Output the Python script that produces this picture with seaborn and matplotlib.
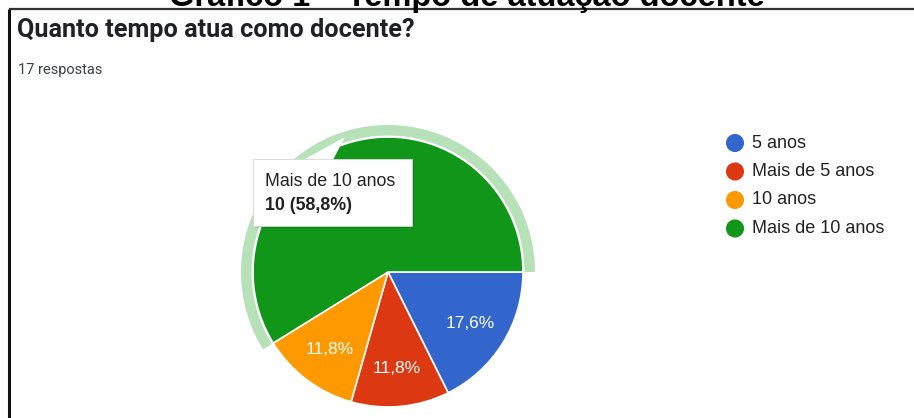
import matplotlib
matplotlib.use("Agg")
import matplotlib.pyplot as plt
from matplotlib.patches import Wedge, Rectangle, Polygon
import seaborn as sns

# Survey data: "Quanto tempo atua como docente?"
categories = ["5 anos", "Mais de 5 anos", "10 anos", "Mais de 10 anos"]
counts = [3, 2, 2, 10]
slice_colors = ["#3366cc", "#dc3912", "#ff9900", "#109618"]
total_label = "17 respostas"
question = "Quanto tempo atua como docente?"
figure_title = "Gráfico 1 – Tempo de atuação docente"
highlighted = 3  # slice with tooltip

sns.set_theme(style="white")
plt.rcParams["font.family"] = ["Liberation Sans", "DejaVu Sans"]
palette = sns.color_palette(slice_colors)

W, H = 914, 418
fig = plt.figure(figsize=(W / 100, H / 100), dpi=100)
ax = fig.add_axes([0, 0, 1, 1])


def Y(y):
    """Convert a top-down pixel row into the axes' bottom-up coordinate."""
    return H - y


def pct_text(p):
    return f"{p:.1f}%".replace(".", ",")


cx, cy, R = 388, Y(272), 135
wedges, _, autotexts = ax.pie(
    counts,
    colors=palette,
    startangle=0,
    counterclock=False,
    center=(cx, cy),
    radius=R,
    autopct=pct_text,
    pctdistance=0.72,
    wedgeprops=dict(edgecolor="white", linewidth=1.2),
    textprops=dict(color="white", fontsize=12.5),
)
# the highlighted slice's own label sits under the tooltip
autotexts[highlighted].set_visible(False)

ax.set_xlim(0, W)
ax.set_ylim(0, H)
ax.set_aspect("auto")
ax.axis("off")

# selection halo around the highlighted slice
hw = wedges[highlighted]
ax.add_patch(Wedge((cx, cy), R + 12, hw.theta1, hw.theta2, width=10.5,
                   facecolor="#b7e1b9", edgecolor="none", zorder=1))

# tooltip box for the highlighted slice
total = sum(counts)
hp = 100 * counts[highlighted] / total
bx0, by0, bx1, by1 = 253, 159, 412, 226
ax.add_patch(Rectangle((bx0 + 1.5, Y(by1) - 2), bx1 - bx0, by1 - by0,
                       facecolor="#000000", alpha=0.12, edgecolor="none", zorder=5))
ax.add_patch(Polygon([(303, Y(160)), (333, Y(160)), (345, Y(137))],
                     closed=True, facecolor="white", edgecolor="none", zorder=4))
ax.add_patch(Rectangle((bx0, Y(by1)), bx1 - bx0, by1 - by0,
                       facecolor="white", edgecolor="#d6d6d6", linewidth=0.6, zorder=6))
ax.text(265, Y(182), categories[highlighted], fontsize=12.8, color="#222222",
        va="center", ha="left", zorder=7)
ax.text(265, Y(205), f"{counts[highlighted]} ({pct_text(hp)})", fontsize=12.8,
        fontweight="bold", color="#222222", va="center", ha="left", zorder=7)

# legend
for i, (lab, col) in enumerate(zip(categories, palette)):
    yy = Y(143 + 28.5 * i)
    ax.scatter([735], [yy], s=170, color=col, edgecolors="none", zorder=3)
    ax.text(752, yy, lab, fontsize=13, color="#222222", va="center", ha="left")

# headings
ax.text(17, Y(30), question, fontsize=18.2, fontweight="bold", color="#202124",
        va="center", ha="left", family=["Roboto", "DejaVu Sans"])
ax.text(18, Y(70), total_label, fontsize=10.5, color="#3c4043",
        va="center", ha="left", family=["Roboto", "DejaVu Sans"])
ax.text(467, Y(6), figure_title, fontsize=23.5, fontweight="bold", color="#000000",
        va="baseline", ha="center")

# frame lines
ax.plot([9, W], [Y(9), Y(9)], color="#333333", linewidth=1.6, solid_capstyle="butt")
ax.plot([9, 9], [Y(9), 0], color="#111111", linewidth=2.2, solid_capstyle="butt")

fig.savefig("out.png", dpi=100)
